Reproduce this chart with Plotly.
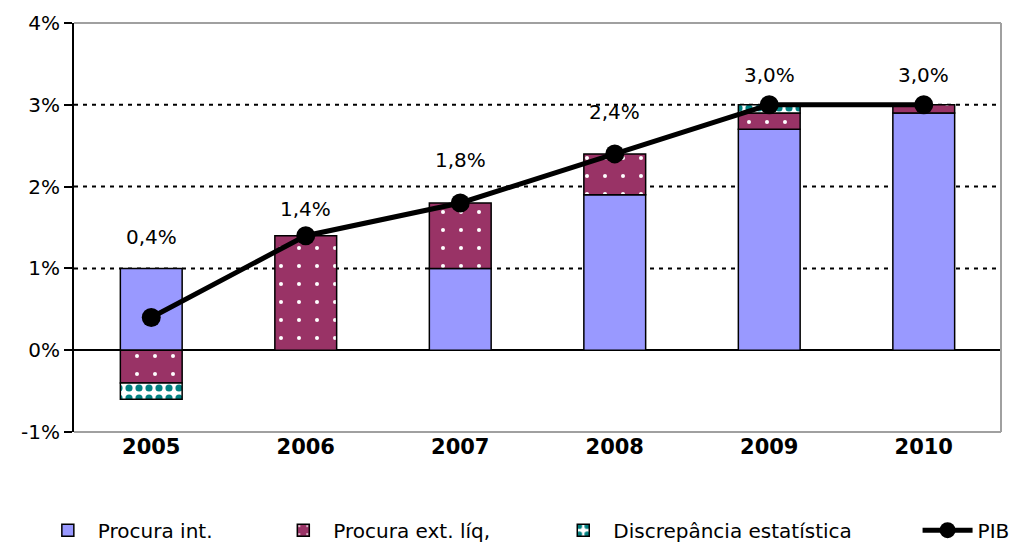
import plotly.graph_objects as go

years = ["2005", "2006", "2007", "2008", "2009", "2010"]
procura_int = [1.0, None, 1.0, 1.9, 2.7, 2.9]
procura_ext = [-0.4, 1.4, 0.8, 0.5, 0.2, 0.1]
discrepancia = [-0.2, None, None, None, 0.1, None]
pib = [0.4, 1.4, 1.8, 2.4, 3.0, 3.0]
pib_labels = ["0,4%", "1,4%", "1,8%", "2,4%", "3,0%", "3,0%"]
label_shift = [31, 27, 43, 42, 30, 30]
y_ticks = [-1, 0, 1, 2, 3, 4]
grid_vals = [1, 2, 3]

FONT = "DejaVu Sans"
xpos = list(range(len(years)))

# legend box positions (paper x) for each series
legend_x = [-0.039, 0.215, 0.517, 0.910]

fig = go.Figure()
fig.add_trace(go.Bar(
    x=xpos, y=procura_int, name="Procura int.", width=0.4, legend="legend",
    marker=dict(color="#9999ff", line=dict(color="black", width=1.5)),
))
fig.add_trace(go.Bar(
    x=xpos, y=procura_ext, name="Procura ext. líq,", width=0.4, legend="legend2",
    marker=dict(color="#993366", line=dict(color="black", width=1.5),
                pattern=dict(shape=".", fgcolor="white", bgcolor="#993366",
                             fgopacity=1, size=18, solidity=0.04)),
))
fig.add_trace(go.Bar(
    x=xpos, y=discrepancia, name="Discrepância estatística", width=0.4, legend="legend3",
    marker=dict(color="white", line=dict(color="black", width=1.5),
                pattern=dict(shape=".", fgcolor="#008080", bgcolor="white",
                             fgopacity=1, size=10, solidity=0.4)),
))
fig.add_trace(go.Scatter(
    x=xpos, y=pib, name="PIB", mode="lines+markers", legend="legend4",
    line=dict(color="black", width=5),
    marker=dict(color="black", size=19),
))

# labels above the bars
for i in xpos:
    pos_top = sum(v for v in [procura_int[i], procura_ext[i], discrepancia[i]] if v is not None and v > 0)
    base = max(pos_top, pib[i])
    fig.add_annotation(x=i, y=base, text=pib_labels[i], showarrow=False,
                       yshift=label_shift[i], font=dict(family=FONT, size=20, color="black"))

# dotted gridlines
for g in grid_vals:
    fig.add_shape(type="line", xref="paper", yref="y", x0=0, x1=1, y0=g, y1=g,
                  line=dict(color="black", width=2, dash="4px,5px"), layer="below")
# gray frame (top, right, bottom)
fig.add_shape(type="line", xref="paper", yref="paper", x0=0, x1=1, y0=1, y1=1,
              line=dict(color="#a0a0a0", width=2))
fig.add_shape(type="line", xref="paper", yref="paper", x0=1, x1=1, y0=0, y1=1,
              line=dict(color="#a0a0a0", width=2))
fig.add_shape(type="line", xref="paper", yref="paper", x0=0, x1=1, y0=0, y1=0,
              line=dict(color="#a0a0a0", width=2))

leg_common = dict(orientation="h", y=-0.24, xanchor="left", yanchor="middle",
                  font=dict(family=FONT, size=20), itemwidth=50,
                  bgcolor="rgba(0,0,0,0)")

fig.update_layout(
    barmode="relative",
    width=1027, height=545,
    margin=dict(l=74, r=26, t=23, b=113, autoexpand=False),
    plot_bgcolor="white", paper_bgcolor="white",
    font=dict(family=FONT, size=20, color="black"),
    showlegend=True,
    legend=dict(x=legend_x[0], **leg_common),
    legend2=dict(x=legend_x[1], **leg_common),
    legend3=dict(x=legend_x[2], **leg_common),
    legend4=dict(x=legend_x[3], **leg_common),
    xaxis=dict(range=[-0.5, len(years) - 0.5], tickvals=xpos,
               ticktext=[f"<b>{y}</b>" for y in years],
               showgrid=False, zeroline=False, ticks="", showline=False, automargin=False,
               tickfont=dict(family=FONT, size=21, color="black")),
    yaxis=dict(range=[-1, 4], tickvals=y_ticks, automargin=False,
               ticktext=[f"{v}%" for v in y_ticks],
               showgrid=False, zeroline=True, zerolinecolor="black", zerolinewidth=1.5,
               showline=True, linecolor="black", linewidth=2,
               ticks="outside", ticklen=8, tickcolor="black", tickwidth=1.5,
               tickfont=dict(family=FONT, size=20, color="black")),
)

fig.write_html("out.html", config={"displayModeBar": False},
               post_script="document.body.style.margin='0';")
